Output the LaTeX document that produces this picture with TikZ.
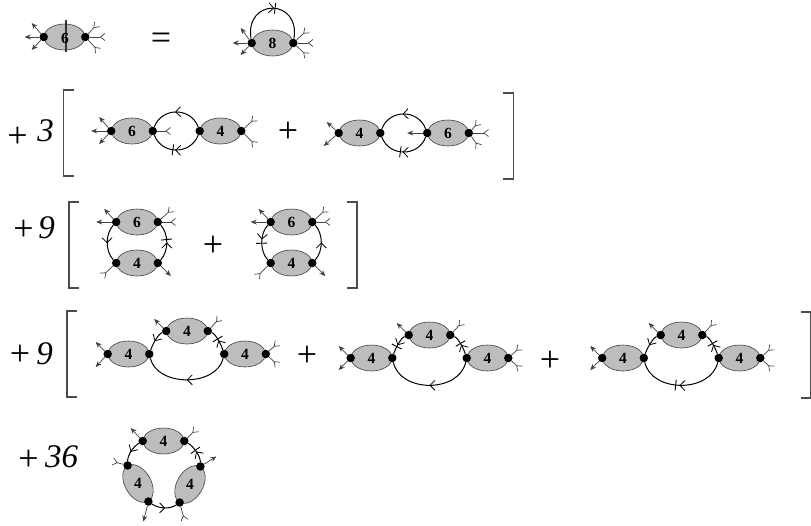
\documentclass[tikz,border=0pt]{standalone}
\usepackage{fontspec}
\setmainfont{Liberation Serif}
\usetikzlibrary{shapes.geometric,arrows.meta,decorations.markings}
\definecolor{blobgray}{gray}{0.74}
\tikzset{
  x=1pt,y=-1pt,
  blob/.style={ellipse,draw=black!75,line width=0.6pt,fill=blobgray,inner sep=0pt,minimum width=41pt,minimum height=26pt},
  blobnum/.style={inner sep=0pt,font=\fontsize{15.5}{15.5}\selectfont\bfseries},
  vertexdot/.style={circle,fill=black,inner sep=0pt,minimum size=8.5pt},
  legout/.style={draw=black!75,line width=0.7pt,-{Stealth[length=6pt,width=5pt]}},
  legin/.style={draw=black!75,line width=0.7pt,-{Straight Barb[reversed,length=4.5pt,width=7pt,line width=0.7pt]}},
  prop/.style={draw=black,line width=1pt},
  chev/.style={postaction={decorate,decoration={markings,mark=at position #1 with {\arrow[line width=0.8pt]{Straight Barb[length=5pt,width=10pt]}}}}},
  barmark/.style={postaction={decorate,decoration={markings,mark=at position #1 with {\draw[line width=0.9pt] (0pt,-5.5pt) -- (0pt,5.5pt);}}}},
  brack/.style={draw=black!70,line width=1.1pt},
  op/.style={inner sep=0pt,font=\fontsize{36}{36}\selectfont},
  coef/.style={inner sep=0pt,font=\fontsize{33}{33}\selectfont\itshape},
}
% \blobe{name}{x}{y}{rotation}: blob with its two vertex dots, no number
\newcommand{\blobe}[4]{%
  \node[blob,rotate=#4] (#1) at (#2,#3) {};
  \node[vertexdot] (#1w) at (#1.west) {};
  \node[vertexdot] (#1e) at (#1.east) {};
}
% \blobd{name}{x}{y}{label}{rotation}
\newcommand{\blobd}[5]{%
  \blobe{#1}{#2}{#3}{#5}
  \node[blobnum] (#1n) at (#2,#3) {#4};
}
\newcommand{\lo}[3]{\draw[legout] (#1) -- ++(#2,#3);}
\newcommand{\li}[3]{\draw[legin] (#1) -- ++(#2,#3);}
\begin{document}
\begin{tikzpicture}
\useasboundingbox (0,0) rectangle (811,525);
% --- row 1
\blobe{a}{64.5}{37}{0}
\draw[black!80,line width=1.1pt] (66,20) -- (66,52);
\node[blobnum] (an) at (65,38) {6};
\lo{aw}{-12}{-14}\lo{aw}{-19}{0}\lo{aw}{-12}{13}
\li{ae}{12}{-13}\li{ae}{20}{0}\li{ae}{13}{14}
\node[op] (eq) at (161,41) {=};
\blobd{b}{272.5}{43}{8}{0}
\lo{bw}{-11}{-15}\lo{bw}{-19}{0}\lo{bw}{-11}{12}
\li{be}{14}{-13}\li{be}{20}{0}\li{be}{14}{13}
\draw[prop,chev=0.52,barmark=0.53] (bw) .. controls +(-7,-45) and +(7,-45) .. (be);
% --- row 2
\node[op] (p2) at (17.5,137) {+};
\node[coef] (c2) at (45.5,131) {3};
\draw[brack] (74,90) -- (63.5,90) -- (63.5,176) -- (74,176);
\blobd{c}{132}{131}{6}{0}
\blobd{d}{220.5}{131}{4}{0}
\lo{cw}{-12}{-14}\lo{cw}{-20}{0}\lo{cw}{-12}{13}
\li{ce}{18}{0}
\li{de}{14}{-13}\li{de}{14}{14}
\draw[prop,chev=0.52] (dw) .. controls +(-9,-24) and +(9,-24) .. (ce);
\draw[prop,chev=0.52,barmark=0.56] (dw) .. controls +(-9,24) and +(9,24) .. (ce);
\node[op] (p3) at (288,132) {+};
\blobd{e}{359.5}{133}{4}{0}
\blobd{f}{448}{133}{6}{0}
\lo{ew}{-12}{-11}\lo{ew}{-15}{13}
\lo{fw}{-20}{0}
\li{fe}{10}{-11}\li{fe}{20}{0}\li{fe}{10}{14}
\draw[prop,chev=0.52] (fw) .. controls +(-9,-24) and +(9,-24) .. (ee);
\draw[prop,chev=0.52,barmark=0.56] (fw) .. controls +(-9,24) and +(9,24) .. (ee);
\draw[brack] (503,93) -- (513.5,93) -- (513.5,179) -- (503,179);
% --- row 3
\node[op] (p4) at (23.5,230) {+};
\node[coef] (c4) at (46.5,228) {9};
\draw[brack] (79,202) -- (69,202) -- (69,288) -- (79,288);
\blobd{g}{137}{222}{6}{0}
\blobd{h}{137}{263}{4}{0}
\lo{gw}{-12}{-13}\lo{gw}{-20}{0}
\li{ge}{14}{-13}\li{ge}{18}{0}
\li{hw}{-14}{13}\lo{he}{13}{13}
\draw[prop,chev=0.52] (gw) .. controls +(-11,12) and +(-11,-12) .. (hw);
\draw[prop,chev=0.5,barmark=0.58] (he) .. controls +(11,-12) and +(11,12) .. (ge);
\node[op] (p5) at (213,246) {+};
\blobd{i}{291.5}{222}{6}{0}
\blobd{j}{291.5}{263}{4}{0}
\lo{iw}{-12}{-13}\lo{iw}{-20}{0}
\li{ie}{14}{-13}\li{ie}{18}{0}
\li{jw}{-14}{14}\lo{je}{13}{13}
\draw[prop,chev=0.42,barmark=0.52] (iw) .. controls +(-11,12) and +(-11,-12) .. (jw);
\draw[prop,chev=0.5] (je) .. controls +(11,-12) and +(11,12) .. (ie);
\draw[brack] (347,202) -- (357,202) -- (357,288) -- (347,288);
% --- row 4
\node[op] (p6) at (20,355) {+};
\node[coef] (c6) at (44.5,354) {9};
\draw[brack] (77,311) -- (67,311) -- (67,397) -- (77,397);
\blobd{k}{128.5}{354}{4}{0}
\blobd{l}{187}{331}{4}{0}
\blobd{m}{245}{354}{4}{0}
\lo{kw}{-12}{-12}\lo{kw}{-12}{13}
\lo{lw}{-12}{-12}\li{le}{12}{-13}
\li{me}{12}{-11}\li{me}{12}{11}
\draw[prop,chev=0.55] (lw) .. controls +(-8,3) and +(3,-9) .. (ke);
\draw[prop,chev=0.5,barmark=0.58] (mw) .. controls +(-3,-9) and +(8,3) .. (le);
\draw[prop,chev=0.5] (mw) .. controls +(-8,33) and +(8,33) .. (ke);
\node[op] (p7) at (307,356) {+};
\blobd{n}{371.5}{358}{4}{0}
\blobd{o}{429.5}{335}{4}{0}
\blobd{q}{487.5}{358}{4}{0}
\lo{nw}{-12}{-12}\lo{nw}{-12}{12}
\lo{ow}{-12}{-12}\li{oe}{12}{-13}
\li{qe}{12}{-11}\li{qe}{12}{11}
\draw[prop,chev=0.55,barmark=0.62] (ow) .. controls +(-8,3) and +(3,-9) .. (ne);
\draw[prop,chev=0.48,barmark=0.55] (qw) .. controls +(-3,-9) and +(8,3) .. (oe);
\draw[prop,chev=0.5] (qw) .. controls +(-8,35) and +(8,35) .. (ne);
\node[op] (p8) at (550,361) {+};
\blobd{r}{623}{358}{4}{0}
\blobd{s}{681.5}{335}{4}{0}
\blobd{t}{739.5}{358}{4}{0}
\lo{rw}{-12}{-12}\lo{rw}{-12}{12}
\lo{sw}{-12}{-12}\li{se}{12}{-13}
\li{te}{12}{-11}\li{te}{12}{11}
\draw[prop,chev=0.55] (sw) .. controls +(-8,3) and +(3,-9) .. (re);
\draw[prop,chev=0.48,barmark=0.55] (tw) .. controls +(-3,-9) and +(8,3) .. (se);
\draw[prop,chev=0.52,barmark=0.56] (tw) .. controls +(-8,35) and +(8,35) .. (re);
\draw[brack] (801,312) -- (810.5,312) -- (810.5,398) -- (801,398);
% --- row 5
\node[op] (p9) at (28.5,460) {+};
\node[coef] (c9) at (61.5,457) {36};
\blobd{u}{163.5}{441}{4}{0}
\blobd{v}{138}{483.5}{4}{-60}
\blobd{w}{190}{484.5}{4}{60}
\lo{uw}{-12}{-13}\li{ue}{12}{-12}
\li{vw}{-15}{-4}\lo{we}{16}{-10}
\lo{ve}{-5}{20}\li{ww}{5}{18}
\draw[prop,chev=0.55] (uw) .. controls +(-10,6) and +(0,-10) .. (vw);
\draw[prop,chev=0.5,barmark=0.56] (we) .. controls +(0,-10) and +(10,6) .. (ue);
\draw[prop,chev=0.55] (ve) .. controls +(10,7) and +(-10,7) .. (ww);
\end{tikzpicture}
\end{document}
